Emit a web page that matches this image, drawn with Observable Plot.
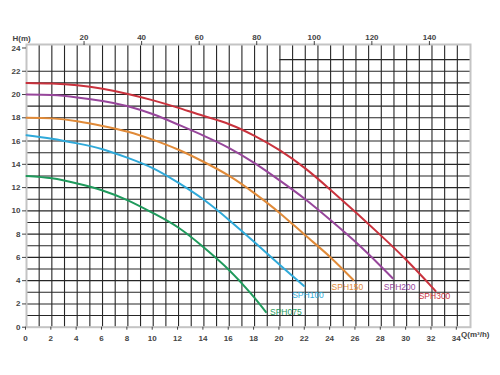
<!DOCTYPE html>
<html><head><meta charset="utf-8">
<script src="https://cdn.jsdelivr.net/npm/d3@7"></script>
<script src="https://cdn.jsdelivr.net/npm/@observablehq/plot@0.6"></script>
<style>body{margin:0;background:#fff;} #chart{position:absolute;left:0;top:0;}
[aria-label$="tick label"] text{font-weight:bold;}</style>
</head><body><div id="chart"></div>
<script>
// Series names and colours
const seriesNames = ["SPH075", "SPH100", "SPH150", "SPH200", "SPH300"];
const seriesColors = ["#1f9a5c", "#2fa9d9", "#e08a38", "#97469b", "#c9323d"];

// Flow Q (m³/h) and head H (m)
const q075 = [0, 2, 4, 6, 8, 10, 12, 14, 16, 17.7, 18.9];
const h075 = [13, 12.8, 12.35, 11.75, 10.9, 9.8, 8.55, 6.85, 4.9, 2.9, 1.3];
const q100 = [0, 2, 4, 6, 8, 10, 12, 14, 16, 18, 20, 21.9];
const h100 = [16.5, 16.2, 15.8, 15.3, 14.55, 13.65, 12.4, 10.95, 9.2, 7.3, 5.35, 3.55];
const q150 = [0, 2, 4, 6, 8, 10, 12, 14, 16, 18, 20, 22, 24, 25.8];
const h150 = [18, 17.95, 17.7, 17.3, 16.8, 16.1, 15.25, 14.2, 13.0, 11.5, 9.8, 7.9, 6.0, 4.05];
const q200 = [0, 2, 4, 6, 8, 10, 12, 14, 16, 18, 20, 22, 24, 26, 28, 28.9];
const h200 = [20, 19.95, 19.75, 19.45, 19.0, 18.3, 17.4, 16.45, 15.4, 14.1, 12.6, 11.0, 9.2, 7.3, 5.2, 4.2];
const q300 = [0, 2, 4, 6, 8, 10, 12, 14, 16, 18, 20, 22, 24, 26, 28, 30, 32, 32.2];
const h300 = [21, 20.95, 20.8, 20.5, 20.05, 19.5, 18.85, 18.15, 17.45, 16.45, 15.2, 13.65, 11.8, 9.85, 7.85, 5.75, 3.45, 3.2];

// Axis ticks
const xTicks = [0, 2, 4, 6, 8, 10, 12, 14, 16, 18, 20, 22, 24, 26, 28, 30, 32, 34];
const yTicks = [0, 2, 4, 6, 8, 10, 12, 14, 16, 18, 20, 22, 24];
const topTicks = [20, 40, 60, 80, 100, 120, 140]; // US gpm
const GPM_PER_M3H = 4.4029;
const xLabel = "Q(m³/h)";
const yLabel = "H(m)";

const qs = [q075, q100, q150, q200, q300];
const hs = [h075, h100, h150, h200, h300];
const series = seriesNames.map((name, i) => ({
  name, color: seriesColors[i],
  pts: qs[i].map((q, j) => ({q, h: hs[i][j]}))
}));

// label offsets relative to each curve's end point (px)
const labelOffset = {
  SPH075: {dx: 4, dy: 0, anchor: "start"},
  SPH100: {dx: 4, dy: 9, anchor: "middle"},
  SPH150: {dx: -6, dy: 7.5, anchor: "middle"},
  SPH200: {dx: 7, dy: 8.5, anchor: "middle"},
  SPH300: {dx: 0, dy: 6, anchor: "middle"}
};

const gridColor = "#262626";
const plot = Plot.plot({
  width: 500, height: 375,
  marginLeft: 26, marginRight: 30, marginTop: 44, marginBottom: 48.3,
  x: {domain: [0, 35.04]},
  y: {domain: [0, 24.3]},
  style: {fontFamily: "'Liberation Sans', Arial, sans-serif", fontSize: "8px", color: "#444", background: "#fff"},
  marks: [
    Plot.ruleX(d3.range(1, 35), {stroke: gridColor, strokeWidth: 1.1}),
    Plot.ruleY(d3.range(1, 23), {stroke: gridColor, strokeWidth: 1.1}),
    Plot.ruleY([23], {x1: 20, x2: 35.04, stroke: gridColor, strokeWidth: 1.1}),
    Plot.frame({stroke: "#c4c4c4", strokeWidth: 2}),
    Plot.axisX({anchor: "bottom", ticks: xTicks, tickSize: 3, tickPadding: 5, label: null, dx: -1}),
    Plot.axisX({anchor: "top", ticks: topTicks.map(g => g / GPM_PER_M3H),
      tickFormat: d => String(Math.round(d * GPM_PER_M3H)), tickSize: 4, tickPadding: 1, label: null}),
    Plot.axisY({ticks: yTicks, tickSize: 4, tickPadding: 2, label: null}),
    ...series.map(s => Plot.line(s.pts, {x: "q", y: "h", stroke: s.color, strokeWidth: 2, curve: "natural"})),
    ...series.map(s => {
      const o = labelOffset[s.name];
      return Plot.text([s.pts[s.pts.length - 1]], {x: "q", y: "h", text: () => s.name, fill: s.color,
        dx: o.dx, dy: o.dy, textAnchor: o.anchor, fontSize: 8.5});
    }),
    Plot.text([yLabel], {frameAnchor: "top-left", dx: -14, dy: -9, fontSize: 8, fontWeight: "bold"}),
    Plot.text([xLabel], {frameAnchor: "bottom-right", dx: 19, dy: 10, fontSize: 8, fontWeight: "bold"})
  ]
});
document.getElementById("chart").appendChild(plot);
</script>
</body></html>
